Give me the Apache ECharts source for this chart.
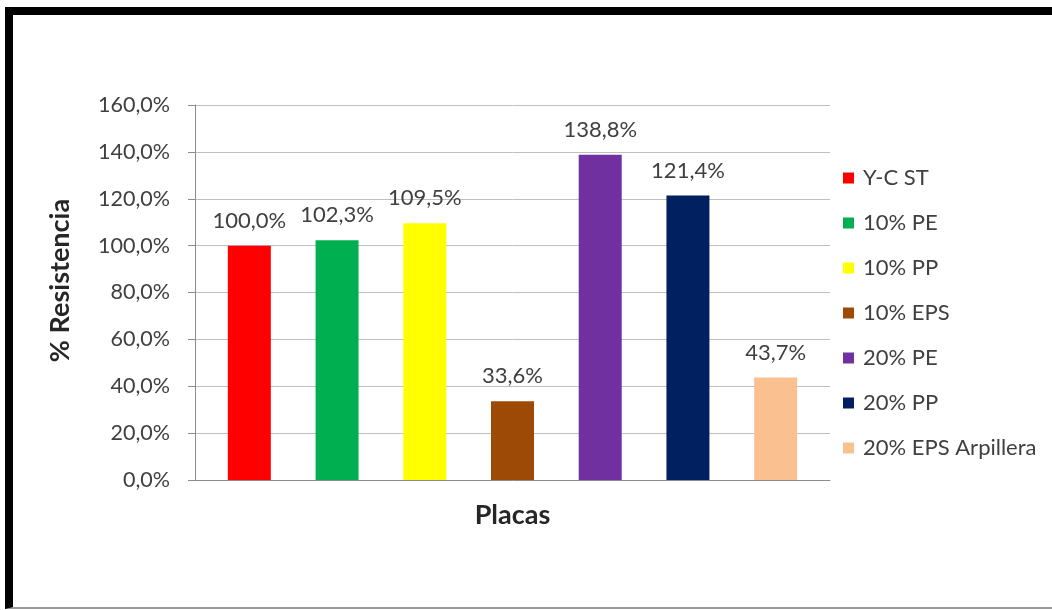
<!DOCTYPE html>
<html>
<head>
<meta charset="utf-8">
<script src="https://cdn.jsdelivr.net/npm/echarts@6/dist/echarts.min.js"></script>
<style>
  html, body { margin: 0; padding: 0; background: #fff; }
  #chart { position: absolute; left: 0; top: 0; width: 1052px; height: 610px; }
  #frame {
    position: absolute; left: 5px; top: 7px; width: 1047px; height: 602px;
    border-top: 8px solid #000; border-left: 8px solid #000; border-bottom: 2px solid #9a9a9a;
    box-sizing: border-box; pointer-events: none;
  }
</style>
</head>
<body>
<div id="chart"></div>
<div id="frame"></div>
<script>
// Resistance of each board type relative to the reference (Y-C ST = 100 %)
const seriesNames = ['Y-C ST', '10% PE', '10% PP', '10% EPS', '20% PE', '20% PP', '20% EPS Arpillera'];
const seriesValues = [100.0, 102.3, 109.5, 33.6, 138.8, 121.4, 43.7];
const seriesColors = ['#FF0000', '#00B050', '#FFFF00', '#9C4A06', '#7030A0', '#002060', '#FAC090'];
const categories = [''];
const yTicks = [0, 20, 40, 60, 80, 100, 120, 140, 160];

const fmt = v => v.toFixed(1).replace('.', ',') + '%';
const FONT = 'Lato';

const chart = echarts.init(document.getElementById('chart'));
chart.setOption({
  animation: false,
  textStyle: { fontFamily: FONT },
  grid: { left: 195, right: 222, top: 105, bottom: 130, containLabel: false },
  legend: {
    orient: 'vertical',
    left: 843,
    top: 167,
    padding: 0,
    itemWidth: 11,
    itemHeight: 11,
    itemGap: 23,
    icon: 'rect',
    data: seriesNames,
    textStyle: { fontFamily: FONT, fontSize: 22, color: '#404040', padding: [0, 0, 0, 4] }
  },
  xAxis: {
    type: 'category',
    data: categories,
    name: 'Placas',
    nameLocation: 'middle',
    nameGap: 22,
    nameTextStyle: { fontFamily: FONT, fontSize: 27, fontWeight: 'bold', color: '#262626' },
    axisLine: { lineStyle: { color: '#8c8c8c', width: 1 } },
    axisTick: { show: false },
    axisLabel: { show: false }
  },
  yAxis: {
    type: 'value',
    min: yTicks[0],
    max: yTicks[yTicks.length - 1],
    interval: 20,
    name: '% Resistencia',
    nameLocation: 'middle',
    nameRotate: 90,
    nameGap: 121,
    nameTextStyle: {
      fontFamily: FONT, fontSize: 27, fontWeight: 'bold', color: '#262626',
      padding: [0, 0, 0, 24]
    },
    axisLine: { show: true, lineStyle: { color: '#8c8c8c', width: 1 } },
    axisTick: { show: true, length: 7, lineStyle: { color: '#8c8c8c' } },
    axisLabel: { fontFamily: FONT, fontSize: 21.5, color: '#404040', margin: 25, formatter: v => fmt(v) },
    splitLine: { lineStyle: { color: '#BFBFBF', width: 1 } }
  },
  series: seriesNames.map((name, i) => ({
    name,
    type: 'bar',
    data: [seriesValues[i]],
    barWidth: 43,
    barGap: '104%',
    itemStyle: { color: seriesColors[i] },
    label: {
      show: true,
      position: 'top',
      distance: 14,
      fontFamily: FONT,
      fontSize: 22,
      color: '#404040',
      formatter: p => fmt(p.value)
    }
  }))
});
</script>
</body>
</html>
